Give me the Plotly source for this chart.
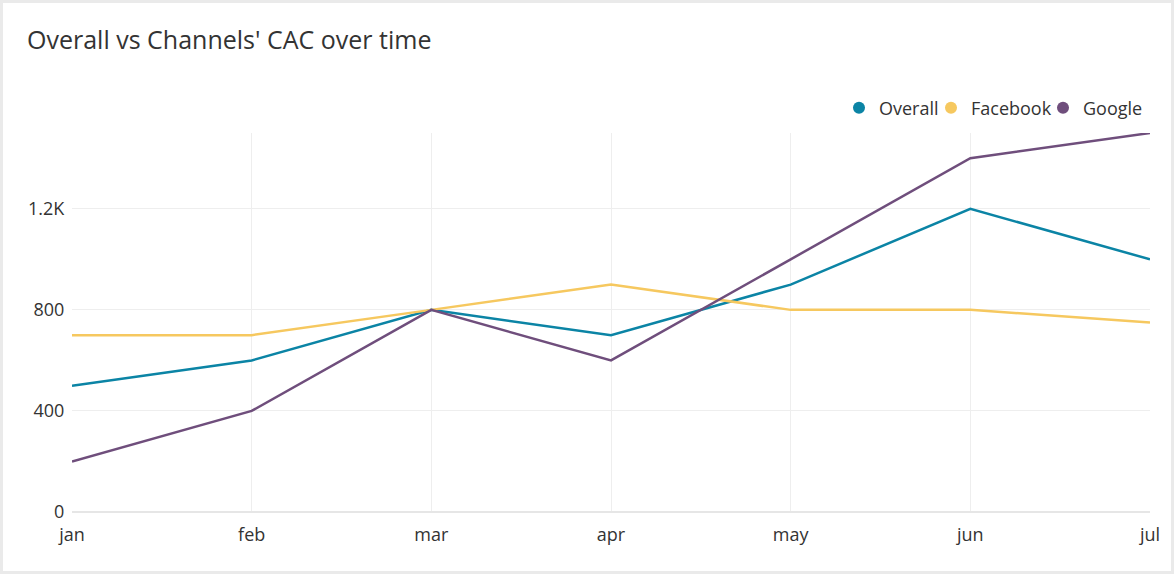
import plotly.graph_objects as go

months = ["jan", "feb", "mar", "apr", "may", "jun", "jul"]
overall = [500, 600, 800, 700, 900, 1200, 1000]
facebook = [700, 700, 800, 900, 800, 800, 750]
google = [200, 400, 800, 600, 1000, 1400, 1500]
y_ticks = [0, 400, 800, 1200]
y_tick_text = ["0", "400", "800", "1.2K"]

W, H = 1175, 575
ml, mr, mt, mb = 72, 25, 133, 63
pw, ph = W - ml - mr, H - mt - mb

series = [("Overall", overall, "#0b84a5"),
          ("Facebook", facebook, "#f6c85f"),
          ("Google", google, "#6f4e7c")]
legend_ids = ["legend", "legend2", "legend3"]
legend_right_px = [944, 1057, 1148]

fig = go.Figure()
for name, vals, col in series:
    fig.add_trace(go.Scatter(x=months, y=vals, name=name, mode="lines",
                             line=dict(color=col, width=2.5), showlegend=False,
                             legendgroup=name))
for (name, vals, col), lid in zip(series, legend_ids):
    fig.add_trace(go.Scatter(x=[None], y=[None], name=name, mode="markers",
                             marker=dict(color=col, size=10), showlegend=True,
                             legendgroup=name, legend=lid))

legend_layout = {}
for lid, rpx in zip(legend_ids, legend_right_px):
    legend_layout[lid] = dict(orientation="h", x=(rpx - ml) / pw, xanchor="right",
                              y=1 + 25 / ph, yanchor="middle",
                              font=dict(size=18, color="#333333"),
                              itemsizing="constant", itemwidth=30,
                              bgcolor="rgba(0,0,0,0)")

fig.update_layout(
    width=W, height=H,
    margin=dict(l=ml, r=mr, t=mt, b=mb),
    paper_bgcolor="white", plot_bgcolor="white",
    font=dict(family="Open Sans", size=18, color="#333333"),
    title=dict(text="Overall vs Channels' CAC over time", x=27 / W, xanchor="left",
               y=1 - 40 / H, yanchor="middle",
               font=dict(size=25, color="#333333")),
    showlegend=True,
    xaxis=dict(showgrid=True, gridcolor="#eeeeee", gridwidth=1, zeroline=False,
               showline=False, ticks="outside", ticklen=6, tickcolor="rgba(0,0,0,0)",
               range=[0, 6], tickfont=dict(size=18)),
    yaxis=dict(range=[0, 1500], tickvals=y_ticks, ticktext=y_tick_text,
               showgrid=True, gridcolor="#eeeeee", gridwidth=1, zeroline=True,
               zerolinecolor="#e6e6e6", zerolinewidth=1.5, showline=False,
               ticks="outside", ticklen=3, tickcolor="rgba(0,0,0,0)",
               tickfont=dict(size=18)),
    shapes=[dict(type="rect", xref="paper", yref="paper",
                 x0=-(ml - 1.5) / pw, x1=1 + (mr - 2.5) / pw,
                 y0=-(mb - 2.5) / ph, y1=1 + (mt - 1.5) / ph,
                 line=dict(color="#eaeaea", width=3), fillcolor="rgba(0,0,0,0)",
                 layer="below")],
    **legend_layout,
)

fig.write_html("out.html", config={"displayModeBar": False},
               post_script="document.body.style.margin='0';document.body.style.overflow='hidden';")
